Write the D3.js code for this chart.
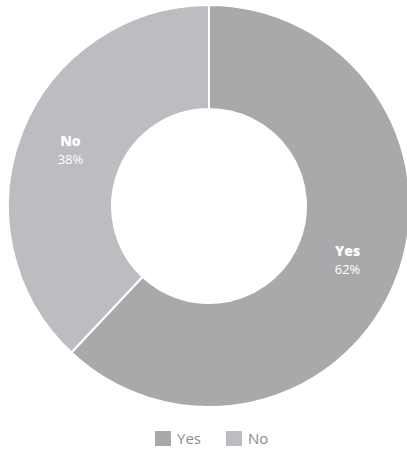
<!DOCTYPE html>
<html><head><meta charset="utf-8">
<script src="https://cdn.jsdelivr.net/npm/d3@7/dist/d3.min.js"></script>
<style>body{margin:0;background:#fff;}svg{display:block;}</style>
</head><body>
<script>
const categories = ["Yes", "No"];
const values = [62, 38];
const colors = ["#a9a9ab", "#bcbcc1"];

const W = 407, H = 453;
const cx = 209, cy = 206, outerR = 201, innerR = 97;
const svg = d3.select("body").append("svg").attr("width", W).attr("height", H);
const g = svg.append("g").attr("transform", `translate(${cx},${cy})`);
const data = categories.map((c, i) => ({cat: c, value: values[i], color: colors[i]}));
const pie = d3.pie().value(d => d.value).sort(null);
const arc = d3.arc().innerRadius(innerR).outerRadius(outerR);
const arcs = pie(data);
g.selectAll("path").data(arcs).join("path")
  .attr("d", arc).attr("fill", d => d.data.color)
  .attr("stroke", "#fff").attr("stroke-width", 2);
const total = d3.sum(values);
const lab = g.selectAll("g.lab").data(arcs).join("g").attr("class", "lab")
  .attr("transform", d => `translate(${arc.centroid(d)})`);
lab.append("text").attr("text-anchor", "middle").attr("y", -5)
  .attr("font-family", "'Open Sans', sans-serif").attr("font-weight", "800").attr("font-size", 14)
  .attr("fill", "#fff").text(d => d.data.cat);
lab.append("text").attr("text-anchor", "middle").attr("y", 13)
  .attr("font-family", "'Open Sans', sans-serif").attr("font-size", 13)
  .attr("fill", "#fff").text(d => Math.round(d.data.value / total * 100) + "%");

const legend = svg.append("g").attr("transform", "translate(0,439)");
const lx = [155, 226];
const li = legend.selectAll("g").data(data).join("g")
  .attr("transform", (d, i) => `translate(${lx[i]},0)`);
li.append("rect").attr("x", 0).attr("y", -8).attr("width", 16).attr("height", 15).attr("fill", d => d.color);
li.append("text").attr("x", 22).attr("y", 5).attr("font-family", "'Open Sans', sans-serif")
  .attr("font-size", 15).attr("fill", "#8a8a8e").text(d => d.cat);
</script>
</body></html>
